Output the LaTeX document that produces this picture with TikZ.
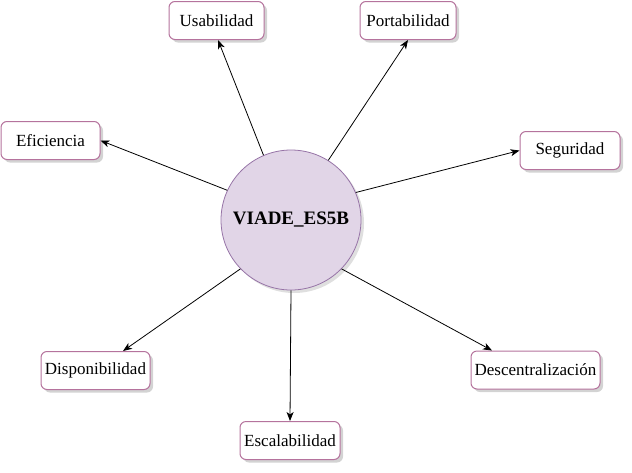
\documentclass[tikz,border=0pt]{standalone}
\usepackage{fontspec}
\setmainfont{Liberation Serif}
\usetikzlibrary{arrows.meta,shadows,calc}
\definecolor{boxline}{HTML}{B5739D}
\definecolor{circfill}{HTML}{E1D5E7}
\definecolor{circline}{HTML}{9673A6}
\begin{document}
\begin{tikzpicture}[x=1pt,y=-1pt,
  qbox/.style={draw=boxline, fill=white, rounded corners=6pt, line width=1pt,
    minimum height=38pt, inner sep=0pt, font=\fontsize{17}{20}\selectfont,
    drop shadow={shadow xshift=3pt, shadow yshift=-3pt, opacity=0.35, fill=gray}},
  hub/.style={circle, draw=circline, fill=circfill, line width=0.8pt, minimum size=140pt,
    inner sep=0pt, font=\bfseries\fontsize{19}{22}\selectfont,
    drop shadow={shadow xshift=3pt, shadow yshift=-3pt, opacity=0.25, fill=gray}},
  conn/.style={-{Stealth[length=9pt,width=7pt,inset=2.5pt]}, line width=0.8pt, black}
]
\useasboundingbox (0,0) rectangle (632,472);
\node[hub] (hub) at (291,220) {VIADE\_ES5B};
\node[qbox, minimum width=95pt] (u) at (216.5,20.5) {Usabilidad};
\node[qbox, minimum width=96pt] (p) at (408,20.5) {Portabilidad};
\node[qbox, minimum width=99pt] (e) at (50.5,140.5) {Eficiencia};
\node[qbox, minimum width=100pt] (s) at (570,150.5) {Seguridad};
\node[qbox, minimum width=109pt] (d) at (95.5,370.5) {Disponibilidad};
\node[qbox, minimum width=100pt] (esc) at (290,440.5) {Escalabilidad};
\node[qbox, minimum width=129pt] (de) at (535.5,370) {Descentralización};
\draw[conn] (hub.113) -- ($(u.south)+(1.5,0)$);
\draw[conn] (hub.58) -- (p.south);
\draw[conn] (hub.155) -- (e.east);
\draw[conn] (hub.23) -- (s.west);
\draw[conn] (hub.224) -- ($(d.north)+(27.5,0)$);
\draw[conn] (hub.south) -- (esc.north);
\draw[conn] (hub.-44) -- ($(de.north)+(-43.5,0)$);
\end{tikzpicture}
\end{document}
